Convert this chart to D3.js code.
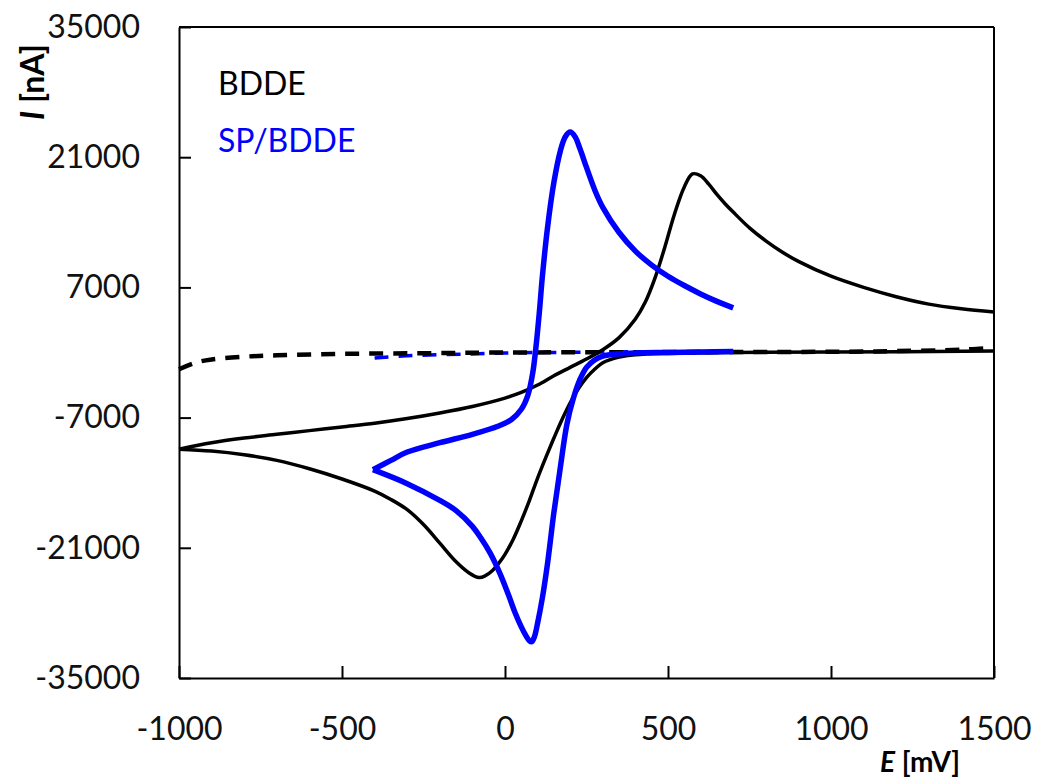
<!DOCTYPE html>
<html>
<head>
<meta charset="utf-8">
<script src="https://cdn.jsdelivr.net/npm/d3@7"></script>
<style>
body{margin:0;background:#fff;}
text{font-family:Lato, "Open Sans", sans-serif;}
</style>
</head>
<body>
<svg id="chart" width="1037" height="779"></svg>
<script>
// potential E [mV] and current I [nA]
// BDDE, anodic sweep -1000 -> 1500
var bddeFwdE = [-1000, -900, -800, -700, -600, -500, -400, -300, -200, -100, 0, 50, 100, 150, 200, 250, 300, 350, 400, 430, 460, 490, 520, 550, 575, 600, 625, 650, 675, 700, 750, 800, 850, 900, 1000, 1100, 1200, 1300, 1400, 1500];
var bddeFwdI = [-10400, -9700, -9200, -8800, -8400, -8000, -7600, -7100, -6500, -5800, -4900, -4300, -3500, -2500, -1600, -700, 300, 1600, 3600, 5400, 8000, 11300, 14900, 17800, 19200, 19000, 18100, 17000, 16000, 15100, 13400, 12000, 10800, 9800, 8200, 7000, 6000, 5200, 4700, 4350];
// BDDE, cathodic sweep 1500 -> -1000
var bddeRevE = [1500, 1000, 700, 500, 400, 350, 300, 275, 250, 225, 200, 175, 150, 125, 100, 75, 50, 25, 0, -20, -40, -60, -80, -110, -150, -200, -250, -300, -350, -400, -500, -600, -700, -800, -900, -1000];
var bddeRevI = [150, 50, 0, -100, -250, -500, -1100, -1800, -2700, -3900, -5400, -7200, -9200, -11300, -13500, -15900, -18100, -20100, -21700, -22700, -23500, -24000, -24200, -23700, -22500, -20500, -18500, -16900, -15800, -14900, -13600, -12500, -11600, -11000, -10600, -10400];
// SP/BDDE, anodic sweep -400 -> 700
var spFwdE = [-405, -350, -300, -200, -100, -20, 20, 50, 70, 85, 95, 105, 115, 130, 150, 170, 185, 200, 215, 230, 250, 275, 300, 350, 400, 450, 500, 550, 600, 650, 700];
var spFwdI = [-12600, -11600, -10700, -9700, -8800, -7900, -7200, -6100, -4600, -2200, 600, 4200, 8300, 13300, 18300, 21700, 23200, 23700, 23200, 21900, 19900, 17500, 15600, 12900, 10900, 9400, 8200, 7200, 6300, 5500, 4800];
// SP/BDDE, cathodic sweep 700 -> -400
var spRevE = [700, 600, 500, 400, 350, 300, 275, 250, 230, 210, 190, 170, 150, 130, 115, 100, 90, 82, 75, 65, 50, 30, 10, -15, -45, -75, -100, -150, -200, -300, -405];
var spRevI = [100, 50, 0, -50, -150, -400, -800, -1600, -2900, -4900, -7700, -12300, -17200, -22800, -26300, -29100, -30600, -31100, -31000, -30500, -29500, -27900, -26000, -23800, -21600, -19900, -18700, -17000, -15900, -14100, -12600];
// blank (supporting electrolyte) scans, dashed
var bddeBlankE = [-1000, -950, -900, -800, -700, -500, -200, 0, 500, 1000, 1200, 1400, 1500];
var bddeBlankI = [-1800, -1100, -750, -450, -300, -150, -60, 0, 30, 80, 150, 300, 500];
var spBlankE = [-400, -300, -100, 0, 300, 700];
var spBlankI = [-600, -350, -150, -50, 50, 150];

var xTicks = [-1000, -500, 0, 500, 1000, 1500];
var yTicks = [-35000, -21000, -7000, 7000, 21000, 35000];
var legendNames = ["BDDE", "SP/BDDE"];
var legendColors = ["#000000", "#0000ff"];

var svg = d3.select("#chart");
//plot box edges (window.top is reserved, hence the prefix)
var boxLeft = 179, boxRight = 994, boxTop = 27, boxBottom = 678;

var x = d3.scaleLinear().domain([-1000, 1500]).range([boxLeft, boxRight]);
var y = d3.scaleLinear().domain([-35000, 35000]).range([boxBottom, boxTop]);

function zip(es, is){
	return es.map(function(e, i){ return [e, is[i]]; });
}

var line = d3.line()
	.x(function(d){ return x(d[0]); })
	.y(function(d){ return y(d[1]); })
	.curve(d3.curveCatmullRom.alpha(0.5));

function drawCurve(data, color, width, dash){
	var p = svg.append("path")
		.datum(data)
		.attr("d", line)
		.attr("fill", "none")
		.attr("stroke", color)
		.attr("stroke-width", width)
		.attr("stroke-linejoin", "round");
	if(dash) p.attr("stroke-dasharray", dash);
}

drawCurve(zip(spBlankE, spBlankI), "#0000ff", 3.5, "14,10");
drawCurve(zip(bddeBlankE, bddeBlankI), "#000", 4.5, "14,10");
drawCurve(zip(bddeFwdE, bddeFwdI), "#000", 3.5);
drawCurve(zip(bddeRevE, bddeRevI), "#000", 3.5);
drawCurve(zip(spFwdE, spFwdI), "#0000ff", 5.5);
drawCurve(zip(spRevE, spRevI), "#0000ff", 5.5);

// axes, ticks pointing inward
var fmt = function(d){ return String(d); };
var yAxis = svg.append("g")
	.attr("transform", "translate(" + boxLeft + ",0)")
	.call(d3.axisLeft(y).tickValues(yTicks).tickSizeInner(-12).tickSizeOuter(0).tickPadding(39).tickFormat(fmt));
var xAxis = svg.append("g")
	.attr("transform", "translate(0," + boxBottom + ")")
	.call(d3.axisBottom(x).tickValues(xTicks).tickSizeInner(-12).tickSizeOuter(0).tickPadding(39).tickFormat(fmt));

[yAxis, xAxis].forEach(function(g){
	g.selectAll("path.domain").attr("stroke", "#000").attr("stroke-width", 2);
	g.selectAll(".tick line").attr("stroke", "#000").attr("stroke-width", 2);
	g.selectAll("text")
		.attr("fill", "#111")
		.style("font-family", "Lato, 'Open Sans', sans-serif")
		.style("font-size", "32px");
});

// top and right edges of the frame
svg.append("line").attr("x1", boxLeft).attr("x2", boxRight).attr("y1", boxTop).attr("y2", boxTop)
	.attr("stroke", "#000").attr("stroke-width", 2);
svg.append("line").attr("x1", boxRight).attr("x2", boxRight).attr("y1", boxTop).attr("y2", boxBottom)
	.attr("stroke", "#000").attr("stroke-width", 2);

// axis titles
var yTitle = svg.append("text")
	.attr("transform", "translate(44,82) rotate(-90)")
	.attr("text-anchor", "middle")
	.style("font-size", "32px")
	.style("font-weight", "bold");
yTitle.append("tspan").style("font-style", "italic").text("I");
yTitle.append("tspan").text(" [nA]");

var xTitle = svg.append("text")
	.attr("x", 960).attr("y", 772)
	.attr("text-anchor", "end")
	.style("font-size", "28px")
	.style("font-weight", "bold");
xTitle.append("tspan").style("font-style", "italic").text("E");
xTitle.append("tspan").text(" [mV]");

// legend
svg.selectAll(".legend")
	.data(legendNames)
	.enter().append("text")
	.attr("class", "legend")
	.attr("x", 218)
	.attr("y", function(d, i){ return 95 + i * 57; })
	.attr("fill", function(d, i){ return legendColors[i]; })
	.style("font-size", "32px")
	.text(function(d){ return d; });
</script>
</body>
</html>
